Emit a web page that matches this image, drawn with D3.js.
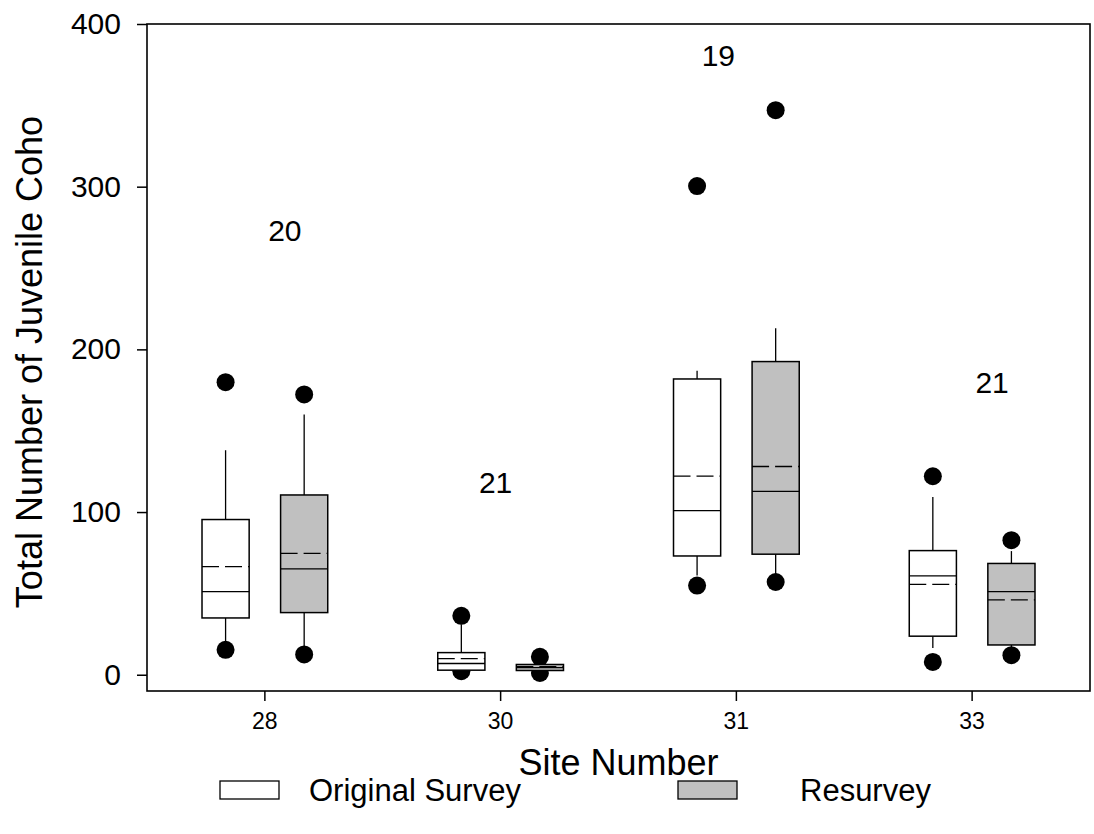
<!DOCTYPE html>
<html>
<head>
<meta charset="utf-8">
<script src="https://cdn.jsdelivr.net/npm/d3@7"></script>
<style>
  html, body { margin: 0; padding: 0; background: #fff; }
  svg { display: block; font-family: "Liberation Sans", Arial, sans-serif; }
</style>
</head>
<body>
<svg id="chart" width="1094" height="834"></svg>
<script>
// Juvenile coho counts per site: original survey vs. resurvey
const sites = ["28", "30", "31", "33"];
const seriesNames = ["Original Survey", "Resurvey"];
const yTicks = [0, 100, 200, 300, 400];

// Original survey box statistics
const origQ1     = [34.9, 2.8, 73.0, 23.7];
const origMedian = [51.1, 6.9, 100.9, 60.8];
const origQ3     = [95.4, 13.6, 181.8, 76.3];
const origMean   = [66.4, 9.9, 122.1, 55.6];
const origLow    = [19.0, 2.0, 61.0, 16.5];
const origHigh   = [138.0, 31.0, 186.8, 109.3];
const origOut    = [[15.3, 179.8], [2.2, 36.2], [54.8, 300.4], [7.9, 122.0]];

// Resurvey box statistics
const resQ1     = [38.2, 2.6, 74.1, 18.3];
const resMedian = [65.1, 4.4, 112.7, 51.1];
const resQ3     = [110.5, 6.3, 192.5, 68.4];
const resMean   = [74.6, 5.0, 128.0, 46.0];
const resLow    = [17.0, 2.0, 61.0, 15.0];
const resHigh   = [160.0, 8.0, 213.0, 76.0];
const resOut    = [[12.5, 172.3], [1.1, 11.0], [57.0, 347.0], [12.0, 82.7]];

// Sample sizes shown above each site
const sampleN = ["20", "21", "19", "21"];
const sampleNY = [273, 118.6, 381, 180];

const fills = ["#ffffff", "#c0c0c0"];

const svg = d3.select("#chart");
const plotL = 147, plotR = 1090, plotT = 24, plotB = 691;

const x = d3.scaleBand().domain(sites).range([plotL, plotR]);
const y = d3.scaleLinear().domain([-10, 400]).range([plotB, plotT]);
const bw = x.bandwidth();
const boxW = bw / 5;
const offsets = [-bw / 6, bw / 6];
const nLabelDx = [20, -5, -18, 20];

const series = [
  { q1: origQ1, med: origMedian, q3: origQ3, mean: origMean, lo: origLow, hi: origHigh, out: origOut },
  { q1: resQ1, med: resMedian, q3: resQ3, mean: resMean, lo: resLow, hi: resHigh, out: resOut }
];

const boxes = [];
series.forEach((s, si) => {
  sites.forEach((site, i) => {
    boxes.push({
      site, si,
      cx: x(site) + bw / 2 + offsets[si],
      q1: s.q1[i], med: s.med[i], q3: s.q3[i], mean: s.mean[i],
      lo: s.lo[i], hi: s.hi[i], out: s.out[i]
    });
  });
});

const g = svg.append("g");

// whiskers
g.selectAll("line.whisker-hi").data(boxes).join("line")
  .attr("class", "whisker-hi")
  .attr("x1", d => d.cx).attr("x2", d => d.cx)
  .attr("y1", d => y(d.q3)).attr("y2", d => y(d.hi))
  .attr("stroke", "#000").attr("stroke-width", 1.3);
g.selectAll("line.whisker-lo").data(boxes).join("line")
  .attr("class", "whisker-lo")
  .attr("x1", d => d.cx).attr("x2", d => d.cx)
  .attr("y1", d => y(d.q1)).attr("y2", d => y(d.lo))
  .attr("stroke", "#000").attr("stroke-width", 1.3);

// outlying points
const pts = boxes.flatMap(d => d.out.map(v => ({ cx: d.cx, v })));
g.selectAll("circle.out").data(pts).join("circle")
  .attr("class", "out")
  .attr("cx", d => d.cx).attr("cy", d => y(d.v)).attr("r", 9)
  .attr("fill", "#000");

// boxes
g.selectAll("rect.box").data(boxes).join("rect")
  .attr("class", "box")
  .attr("x", d => d.cx - boxW / 2).attr("width", boxW)
  .attr("y", d => y(d.q3)).attr("height", d => y(d.q1) - y(d.q3))
  .attr("fill", d => fills[d.si]).attr("stroke", "#000").attr("stroke-width", 1.5);

// medians
g.selectAll("line.median").data(boxes).join("line")
  .attr("class", "median")
  .attr("x1", d => d.cx - boxW / 2).attr("x2", d => d.cx + boxW / 2)
  .attr("y1", d => y(d.med)).attr("y2", d => y(d.med))
  .attr("stroke", "#000").attr("stroke-width", 1.3);

// means (dashed)
g.selectAll("line.mean").data(boxes).join("line")
  .attr("class", "mean")
  .attr("x1", d => d.cx - boxW / 2).attr("x2", d => d.cx + boxW / 2)
  .attr("y1", d => y(d.mean)).attr("y2", d => y(d.mean))
  .attr("stroke", "#000").attr("stroke-width", 1.3)
  .attr("stroke-dasharray", "17,6");

// frame
svg.append("rect")
  .attr("x", plotL).attr("y", plotT).attr("width", plotR - plotL).attr("height", plotB - plotT)
  .attr("fill", "none").attr("stroke", "#000").attr("stroke-width", 1.6);

// y axis
const yAxis = svg.append("g").attr("transform", `translate(${plotL},0)`)
  .call(d3.axisLeft(y).tickValues(yTicks).tickSize(10).tickSizeOuter(0).tickPadding(16));
yAxis.select(".domain").remove();
yAxis.selectAll("line").attr("stroke-width", 1.5);
yAxis.selectAll("text").attr("font-size", 30).attr("fill", "#000")
  .attr("font-family", "Liberation Sans, Arial, sans-serif");

// x axis
const xAxis = svg.append("g").attr("transform", `translate(0,${plotB})`)
  .call(d3.axisBottom(x).tickSize(10).tickSizeOuter(0).tickPadding(12));
xAxis.select(".domain").remove();
xAxis.selectAll("line").attr("stroke-width", 1.5);
xAxis.selectAll("text").attr("font-size", 23).attr("fill", "#000")
  .attr("font-family", "Liberation Sans, Arial, sans-serif");

// sample size labels
svg.selectAll("text.n").data(sites).join("text")
  .attr("class", "n")
  .attr("x", (d, i) => x(d) + bw / 2 + nLabelDx[i])
  .attr("y", (d, i) => y(sampleNY[i]))
  .attr("dy", "0.36em")
  .attr("text-anchor", "middle").attr("font-size", 30)
  .text((d, i) => sampleN[i]);

// axis titles
svg.append("text")
  .attr("x", (plotL + plotR) / 2).attr("y", 775)
  .attr("text-anchor", "middle").attr("font-size", 36)
  .text("Site Number");
svg.append("text")
  .attr("transform", "translate(42,362) rotate(-90)")
  .attr("text-anchor", "middle").attr("font-size", 36)
  .text("Total Number of Juvenile Coho");

// legend
const legendX = [220, 678];
const legendTextX = [309, 800];
const legend = svg.selectAll("g.legend").data(seriesNames).join("g")
  .attr("class", "legend");
legend.append("rect")
  .attr("x", (d, i) => legendX[i]).attr("y", 781).attr("width", 59).attr("height", 18)
  .attr("fill", (d, i) => fills[i]).attr("stroke", "#000").attr("stroke-width", 1.3);
legend.append("text")
  .attr("x", (d, i) => legendTextX[i]).attr("y", 790).attr("dy", "0.36em")
  .attr("font-size", 31)
  .text(d => d);
</script>
</body>
</html>
